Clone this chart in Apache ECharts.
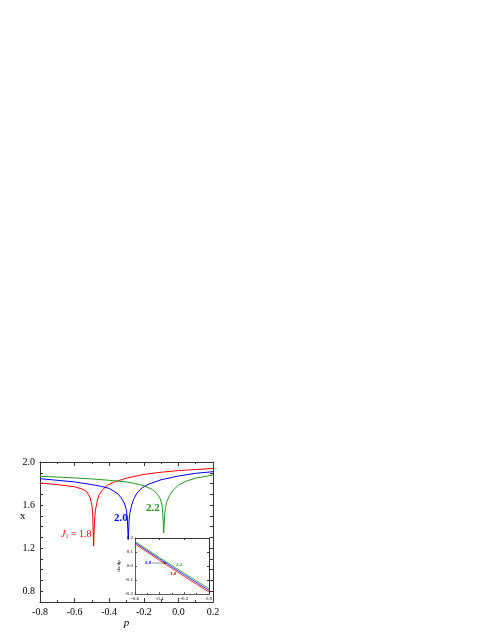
<!DOCTYPE html>
<html>
<head>
<meta charset="utf-8">
<script src="https://cdn.jsdelivr.net/npm/echarts@6/dist/echarts.min.js"></script>
<style>
  html, body { margin: 0; padding: 0; background: #fff; }
  #chart { width: 491px; height: 635px; }
</style>
</head>
<body>
<div id="chart"></div>
<script>
// main panel: x versus p for three J1 values
const pRed = [-0.8, -0.7, -0.6, -0.55, -0.53, -0.51, -0.5, -0.495, -0.49, -0.485, -0.48, -0.47, -0.46, -0.44, -0.41, -0.37, -0.3, -0.2, -0.1, 0, 0.1, 0.2]
const xRed = [1.805, 1.79, 1.77, 1.745, 1.725, 1.67, 1.6, 1.5, 1.22, 1.45, 1.55, 1.63, 1.69, 1.74, 1.785, 1.815, 1.85, 1.885, 1.905, 1.92, 1.93, 1.94]

const pBlue = [-0.8, -0.7, -0.6, -0.5, -0.45, -0.4, -0.35, -0.33, -0.31, -0.3, -0.295, -0.29, -0.285, -0.28, -0.27, -0.26, -0.24, -0.21, -0.17, -0.1, 0, 0.1, 0.2]
const xBlue = [1.845, 1.83, 1.815, 1.79, 1.775, 1.755, 1.705, 1.665, 1.61, 1.55, 1.47, 1.28, 1.46, 1.53, 1.6, 1.65, 1.71, 1.76, 1.795, 1.835, 1.87, 1.895, 1.91]

const pGreen = [-0.8, -0.7, -0.6, -0.5, -0.4, -0.3, -0.25, -0.2, -0.15, -0.125, -0.105, -0.095, -0.09, -0.085, -0.08, -0.075, -0.065, -0.05, -0.03, 0, 0.05, 0.1, 0.2]
const xGreen = [1.867, 1.86, 1.852, 1.843, 1.83, 1.815, 1.8, 1.78, 1.745, 1.71, 1.66, 1.6, 1.52, 1.34, 1.5, 1.58, 1.64, 1.69, 1.74, 1.785, 1.825, 1.85, 1.88]

// inset: derivative, almost straight lines
const pInset = [-0.6, -0.4, -0.2, 0.0]
const dRed = [0.157, 0.04, -0.075, -0.186]
const dBlue = [0.167, 0.05, -0.063, -0.174]
const dGreen = [0.176, 0.06, -0.052, -0.162]

const yTickLabels = ['0.8', '1.2', '1.6', '2.0']

const colors = { red: '#ff0000', blue: '#0000ff', green: '#229a22' }
const serif = '"Liberation Serif", "DejaVu Serif", serif'

function pairs(xs, ys) {
  return xs.map((v, i) => [v, ys[i]])
}

function frameAxis(pos, grid, min, max, interval, tickLen, minor) {
  return {
    type: 'value',
    gridIndex: grid,
    position: pos,
    min: min,
    max: max,
    interval: interval,
    axisLine: { show: true, onZero: false, lineStyle: { color: '#333', width: 1 } },
    axisTick: { show: true, inside: true, length: tickLen, lineStyle: { color: '#333' } },
    minorTick: { show: minor, splitNumber: 2, length: tickLen / 2, lineStyle: { color: '#333' } },
    axisLabel: { show: false },
    splitLine: { show: false }
  }
}

function line(name, data, color, xi, yi, w) {
  return {
    type: 'line',
    name: name,
    data: data,
    xAxisIndex: xi,
    yAxisIndex: yi,
    showSymbol: false,
    symbol: 'none',
    lineStyle: { color: color, width: w },
    itemStyle: { color: color },
    animation: false,
    z: 3
  }
}

const chart = echarts.init(document.getElementById('chart'))

chart.setOption({
  animation: false,
  textStyle: { fontFamily: serif },
  grid: [
    { left: 40, right: 278, top: 462, bottom: 33 },
    { left: 135, right: 282, top: 538, bottom: 41, show: true, backgroundColor: '#fff', borderWidth: 0, z: 4 }
  ],
  xAxis: [
    {
      type: 'value',
      gridIndex: 0,
      min: -0.8,
      max: 0.2,
      interval: 0.2,
      name: 'p',
      nameLocation: 'middle',
      nameGap: 16,
      nameTextStyle: { fontFamily: serif, fontStyle: 'italic', fontSize: 11, color: '#000' },
      axisLine: { onZero: false, lineStyle: { color: '#333' } },
      axisTick: { inside: true, length: 4, lineStyle: { color: '#333' } },
      minorTick: { show: true, splitNumber: 2, length: 2, lineStyle: { color: '#333' } },
      axisLabel: { fontFamily: serif, fontSize: 10, color: '#000', margin: 5, formatter: v => v.toFixed(1) },
      splitLine: { show: false }
    },
    frameAxis('top', 0, -0.8, 0.2, 0.2, 4, true),
    {
      type: 'value',
      gridIndex: 1,
      min: -0.6,
      max: 0,
      interval: 0.2,
      axisLine: { onZero: false, lineStyle: { color: '#333', width: 0.8 } },
      axisTick: { inside: true, length: 2, lineStyle: { color: '#333', width: 0.8 } },
      minorTick: { show: true, splitNumber: 2, length: 1, lineStyle: { color: '#333' } },
      axisLabel: { fontFamily: serif, fontSize: 5, color: '#000', margin: 2, formatter: v => v.toFixed(1) },
      splitLine: { show: false },
      z: 5
    },
    Object.assign(frameAxis('top', 1, -0.6, 0, 0.2, 2, true), { z: 5 })
  ],
  yAxis: [
    {
      type: 'value',
      gridIndex: 0,
      min: 0.7,
      max: 2.0,
      interval: 0.1,
      axisLine: { onZero: false, lineStyle: { color: '#333' } },
      axisTick: { inside: true, length: 3, lineStyle: { color: '#333' } },
      axisLabel: {
        fontFamily: serif, fontSize: 10, color: '#000', margin: 5,
        formatter: v => (yTickLabels.indexOf(v.toFixed(1)) >= 0 ? v.toFixed(1) : '')
      },
      splitLine: { show: false }
    },
    frameAxis('right', 0, 0.7, 2.0, 0.1, 3, false),
    {
      type: 'value',
      gridIndex: 1,
      min: -0.2,
      max: 0.2,
      interval: 0.1,
      name: 'dx/dp',
      nameLocation: 'middle',
      nameGap: 8,
      nameTextStyle: { fontFamily: serif, fontSize: 5, color: '#000' },
      axisLine: { onZero: false, lineStyle: { color: '#333', width: 0.8 } },
      axisTick: { inside: true, length: 2, lineStyle: { color: '#333', width: 0.8 } },
      axisLabel: { fontFamily: serif, fontSize: 5, color: '#000', margin: 2, formatter: v => v.toFixed(1) },
      splitLine: { show: false },
      z: 5
    },
    Object.assign(frameAxis('right', 1, -0.2, 0.2, 0.1, 2, false), { z: 5 })
  ],
  series: [
    line('1.8', pairs(pRed, xRed), colors.red, 0, 0, 1),
    line('2.0', pairs(pBlue, xBlue), colors.blue, 0, 0, 1),
    line('2.2', pairs(pGreen, xGreen), colors.green, 0, 0, 1),
    Object.assign(line('i1.8', pairs(pInset, dRed), colors.red, 2, 2, 0.8), { z: 6 }),
    Object.assign(line('i2.0', pairs(pInset, dBlue), colors.blue, 2, 2, 0.8), { z: 6 }),
    Object.assign(line('i2.2', pairs(pInset, dGreen), colors.green, 2, 2, 0.8), { z: 6 })
  ],
  graphic: [
    // y axis title, placed like the reference
    { type: 'text', left: 20, top: 511, z: 10, style: { text: 'x', fontFamily: serif, fontSize: 11, fill: '#000' } },
    {
      type: 'text', left: 61, top: 529, z: 10,
      style: {
        text: '{j|J}{s|1}{t| = 1.8}',
        rich: {
          j: { fontFamily: serif, fontStyle: 'italic', fontSize: 10, fill: colors.red },
          s: { fontFamily: serif, fontSize: 6, fill: colors.red, padding: [5, 0, 0, 0] },
          t: { fontFamily: serif, fontSize: 10, fill: colors.red }
        }
      }
    },
    { type: 'text', left: 114, top: 513, z: 10, style: { text: '2.0', fontFamily: serif, fontSize: 11, fontWeight: 'bold', fill: colors.blue } },
    { type: 'text', left: 146, top: 503, z: 10, style: { text: '2.2', fontFamily: serif, fontSize: 11, fontWeight: 'bold', fill: colors.green } },
    { type: 'text', left: 145, top: 560, z: 10, style: { text: '2.0', fontFamily: serif, fontSize: 5, fontWeight: 'bold', fill: colors.blue } },
    { type: 'text', left: 176, top: 562, z: 10, style: { text: '2.2', fontFamily: serif, fontSize: 5, fontWeight: 'bold', fill: colors.green } },
    { type: 'text', left: 170, top: 571, z: 10, style: { text: '1.8', fontFamily: serif, fontSize: 5, fontWeight: 'bold', fill: colors.red } },
    { type: 'line', z: 10, shape: { x1: 152, y1: 563, x2: 165, y2: 563 }, style: { stroke: '#666', lineWidth: 0.7 } },
    { type: 'polygon', z: 10, shape: { points: [[167, 563], [164, 561.8], [164, 564.2]] }, style: { fill: '#333' } }
  ]
})
</script>
</body>
</html>
